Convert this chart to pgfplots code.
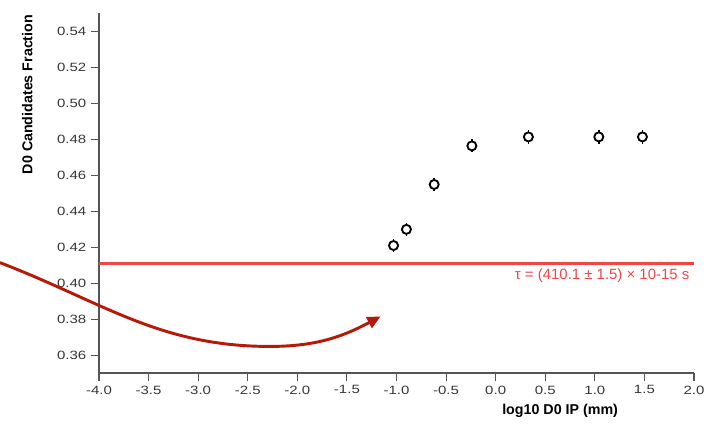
\documentclass[border=0pt]{standalone}
\usepackage{pgfplots}
\pgfplotsset{compat=1.18}
\usepackage{fontspec}
\setmainfont{Liberation Sans}
\newfontfamily\tickfont[FakeStretch=1.25]{Liberation Sans}
\usetikzlibrary{arrows.meta}
\definecolor{axisgray}{RGB}{85,85,85}
\definecolor{ticktext}{RGB}{55,55,55}
\definecolor{fitred}{RGB}{240,70,70}
\definecolor{arrowred}{RGB}{180,25,10}
\pgfplotstableread{
x y e
-1.03 0.4210 0.0036
-0.90 0.4300 0.0036
-0.62 0.4550 0.0036
-0.24 0.4765 0.0036
0.33 0.4815 0.0038
1.04 0.4815 0.0038
1.48 0.4815 0.0038
}\datatable
\pgfplotstableread{
x y
-4 0.411
2 0.411
}\fittable
\begin{document}
\begin{tikzpicture}
\begin{axis}[
  scale only axis,
  width=446.25pt, height=270pt,
  xmin=-4, xmax=2, ymin=0.35, ymax=0.5505,
  axis lines=left,
  axis line style={-, axisgray, line width=0.8pt},
  tick style={axisgray, line width=0.8pt},
  tick align=outside,
  major tick length=6pt,
  xtick={-4,-3.5,...,2.01},
  ytick={0.36,0.38,...,0.545},
  /pgf/number format/assume math mode=true,
  xticklabel style={/pgf/number format/.cd, fixed, fixed zerofill, precision=1},
  yticklabel style={/pgf/number format/.cd, fixed, fixed zerofill, precision=2},
  tick label style={font=\tickfont\fontsize{9pt}{11pt}\selectfont, text=ticktext},
  clip=false,
  xlabel={log10 D0 IP (mm)},
  ylabel={D0 Candidates Fraction},
  xlabel style={font=\fontsize{10.7pt}{12pt}\selectfont\bfseries, at={(axis description cs:0.775,-0.106)}, anchor=center},
  ylabel style={font=\fontsize{10.7pt}{12pt}\selectfont\bfseries, at={(axis description cs:-0.104,1.008)}, anchor=south east, rotate=0},
]
\addplot[draw=fitred, line width=1.6pt, mark=none] table[x=x, y=y] {\fittable};
\addplot[draw=none, mark=none,
  error bars/.cd, y dir=both, y explicit,
  error bar style={line width=1.1pt, black}, error mark=none]
  table[x=x, y=y, y error=e] {\datatable};
\addplot[only marks, mark=*, mark size=3.4pt,
  mark options={line width=1.4pt, draw=black, fill=white}]
  table[x=x, y=y] {\datatable};
\node[anchor=east, text=fitred, font=\fontsize{11.2pt}{13pt}\selectfont, inner sep=0pt] at (axis cs:1.955,0.4043) {τ = (410.1 ± 1.5) × 10-15 s};
\draw[arrowred, line width=2.2pt, -{Triangle[length=10pt,width=9pt]}]
  (axis cs:-5,0.4115) to[out=-21,in=180] (axis cs:-2.28,0.3648) to[out=0,in=-152] (axis cs:-1.16,0.3815);
\end{axis}
\pgfresetboundingbox
\path ([shift={(-74.25pt,-42.75pt)}]current axis.south west) rectangle ([shift={(454.5pt,279.75pt)}]current axis.south west);
\end{tikzpicture}
\end{document}
